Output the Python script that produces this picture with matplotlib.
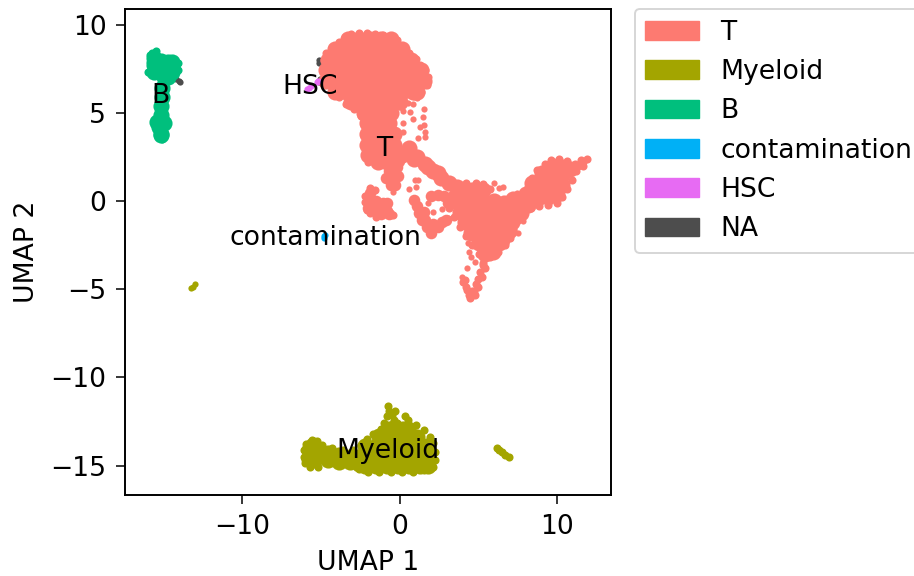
import numpy as np
from matplotlib import pyplot as plt
from matplotlib.patches import Patch

cell_types = ['T', 'Myeloid', 'B', 'contamination', 'HSC', 'NA']
type_colors = ['#FD7A71', '#A3A500', '#00BF7D', '#00B0F6', '#E76BF3', '#4D4D4D']

# points, (umap1, umap2)
t_big = [(-3.3,9.2),(-2.6,9.2),(-1.9,9.2),(-1.2,9.2),(-.6,9.2),
         (-4.1,8.6),(-3.4,8.6),(-2.7,8.6),(-2,8.6),(-1.3,8.6),(-.6,8.6),(.1,8.6),
         (-4.6,8),(-3.9,8),(-3.2,8),(-2.5,8),(-1.8,8),(-1.1,8),(-.4,8),(.3,8),(.7,8),
         (-4.7,7.4),(-4,7.4),(-3.3,7.4),(-2.6,7.4),(-1.9,7.4),(-1.2,7.4),(-.5,7.4),(.2,7.4),(.9,7.4),(1.35,7.4),
         (-4.7,6.8),(-4,6.8),(-3.3,6.8),(-2.6,6.8),(-1.9,6.8),(-1.2,6.8),(-.5,6.8),(.2,6.8),(.9,6.8),(1.5,6.8),
         (-4.1,6.2),(-3.4,6.2),(-2.7,6.2),(-2,6.2),(-1.3,6.2),(-.6,6.2),(.1,6.2),(.8,6.2),(1.1,6.2),
         (-3.1,5.6),(-2.4,5.6),(-1.7,5.6),(-1,5.6),(-.3,5.6),(0,5.6),
         (-2.3,5),(-1.6,5),(-.9,5),(-.6,5),
         (-2.1,4.4),(-1.4,4.4),(-.7,4.4),
         (-2.1,3.8),(-1.4,3.8),(-.7,3.8),(-.4,3.8),
         (-2.1,3.2),(-1.4,3.2),(-.7,3.2),(-.4,3.2),
         (-2,2.6),(-1.3,2.6),(-.6,2.6),(.1,2.6),(.5,2.8),
         (-1.4,2.2),(-.8,2.2),(-.2,2.3),
         (.6,3),(.9,2.4),(1.1,2.5),(1.6,2.1),(2.1,1.7),(2.6,1.3),(3.1,1),(3.6,.8),(2.4,1.6),(1.8,1.9),
         (3.9,.6),(4.6,.6),(5.3,.6),
         (3.5,0),(3.9,0),(4.6,0),(5.3,0),(6,0),(6.6,-.1),
         (3.8,-.6),(4.5,-.6),(5.2,-.6),(5.9,-.6),(6.6,-.6),(7.2,-.6),(7.6,-.5),
         (4.1,-1.2),(4.6,-1.2),(5.3,-1.2),(6,-1.2),(6.7,-1.2),(7.1,-1.2),
         (4.5,-1.8),(5.2,-1.8),(5.9,-1.8),(6.5,-1.8),(6.9,-1.7),
         (5,-2.4),(5.7,-2.4),(6.3,-2.4),(6.5,-2.2),
         (5.4,-3),(5.9,-2.9),
         (7.4,-.4),(8,-.1),(8.7,.1),(9.4,.2),(8.1,-.2),(7.7,-.7),(7.2,.1),
         (8,.4),(8.7,.4),(9.4,.4),(10,.4),
         (8.4,1),(9.1,1),(9.8,1),(10.3,.9),
         (9,1.6),(9.7,1.6),(10.3,1.5),
         (9.7,2),(10.3,1.9),(10.8,1.8)]
t_lobe = [(-1.9,.45),(-1.9,0),(-1.5,0),(-1.1,-.1),(-.8,-.1),(-2,-.4),(-1.6,-.45),(-1.2,-.5),(-.8,-.55),(-1.2,-.75),(-.7,-.75),
          (.9,.05),(1.1,-.3),(1.2,-.7),(1.4,-1.1),(1.7,-1.5),(2,-1.8),(2.4,-1.5),(2.1,-1.3),(2.7,-1.2),(2.95,-1.05),(1.6,-1.1),(1.5,-.6),
          (2,.3),(2.4,.35),(2.8,.3),(3.05,-.1),
          (-.9,1.3),(-.5,1.3),(-.1,1.4),(-.6,.9),(-.3,.9),(-.7,1.7),(-.2,1.9)]
t_mid = [(11.1,1.8),(11.3,2),(11.6,2.2),(11.9,2.4),(11.5,2.3),(11.6,2),
         (-4.85,7),(-4.85,7.5),(-4.85,8),(-4.7,8.4),(-4.3,8.7),(-3.9,9),(-3.5,9.3),(-3.1,9.45),(-2.6,9.5),(-2.1,9.5),
         (-1.6,9.45),(-1.1,9.4),(-.6,9.3),(-.2,9.1),(.2,8.75),(.6,8.4),(1,8.05),(1.3,7.7),(1.6,7.4),(1.8,7.05),
         (1.7,6.6),(1.35,6.2),(.9,5.95),
         (-4.8,6.6),(-4.4,6.2),(-3.9,5.9),(-3.4,5.5),(-2.9,5.2),(-2.5,4.8),(-2.3,4.3),(-2.3,3.7),(-2.3,3.1),(-2.25,2.6),(-2,2.2),
         (3.7,.95),(4.2,1),(4.8,1),(5.3,.95),(5.7,.7),(3.3,.4),(3.1,0),(3.1,-.4),(3.4,-.9),(3.8,-1.5),
         (4.2,-2),(4.6,-2.5),(5,-3),(5.3,-3.5),(5.7,-3.2),(6.2,-2.9),(6.7,-2.5),(7,-2.1),(7.2,-1.6),(7.5,-1.1),(7.9,-.7),
         (7.6,.2),(8.1,.8),(8.4,1.3),(8.7,1.75),(9.2,2.1),(9.6,2.3),(10.1,2.4),(10.6,2.25),(11.1,2.1),
         (11.2,1.7),(10.9,1.2),(10.6,.7),(10.3,.2),(10,-.1),(9.4,-.25),(8.8,-.3),(8.3,-.4),
         (5.4,-3.8),(5.2,-4.3),(4.95,-4.87),(4.76,-5.33),(4.44,-5.5),(4.25,-5.04),(4,-4.6),(4.6,-5.1),(4.95,-4.4),
         (5.3,-3.6),(5.1,-4),(4.8,-4.7),(4.7,-5.1),(4.4,-5.3),(4.2,-4.9),(4.1,-4.5),
         (-1.9,.74),(-1.59,.62),(-2.22,-.06),(-2.2,.3),(-2.1,-.5),(-.63,-.8),(-.44,-.8),(-1.9,-.7),(-1.5,-.9)]
t_small = [(1.08,5.84),(.63,5.04),(.83,4.65),(.19,5.1),(1.27,4.2),(1.46,4.76),(1.59,3.9),(1.14,3.57),
           (.19,4.4),(.19,3.9),(.5,5.55),(0,5.3),(1.5,4.3),(1.6,3.6),(.8,5.5),(1.5,5.2),
           (.95,1.19),(1.14,1.19),(.57,.68),(1.02,.79),(-.44,.51),(1.78,-.11),(2.1,-.62),(2.67,-.45),(3.05,-.96),
           (5.97,1.02),(6.54,.79),(6.29,.74),(6.67,.11),(7.43,.45),(7.49,-1.8),(7.8,-1.13),
           (4.32,-2.4),(4.38,-2.9),(4.5,-3.2),(4.76,-3.46),(3.94,-4.3),(4.25,-3.8)]
myeloid_big = [(-5.8,-14.1),(-5.4,-14.1),(-5.8,-14.6),(-5.4,-14.6),(-5.5,-13.8),(-5.5,-14.7),
               (-4.6,-14.3),(-4.6,-14.7),(-3.9,-14.4),(-3.9,-14.8),(-3.2,-14.5),(-3.2,-14.8),(-2.6,-14.5),(-2.6,-14.9),
               (-2.2,-15),(-1.5,-15),(-.8,-15),(-.1,-15),(.6,-15),(1.3,-15),(1.8,-15),
               (-2.3,-14.5),(-1.6,-14.5),(-.9,-14.5),(-.2,-14.5),(.5,-14.5),(1.2,-14.5),(1.8,-14.5),
               (-2.2,-13.9),(-1.5,-13.9),(-.8,-13.9),(-.1,-13.9),(.6,-13.9),(1.3,-13.9),(1.7,-13.9),
               (-1.3,-13.3),(-.8,-13.3),(-.1,-13.3),(.6,-13.3),(1.1,-13.4),
               (-.7,-12.9),(-.3,-12.8),(.2,-12.9),(.5,-12.9)]
myeloid_mid = [(-.75,-11.6),(-.7,-11.9),(-.5,-12.1),(-.8,-12.2),(-.4,-12.4),(-1,-12.6),(-.3,-11.9),
               (-2.6,-15.2),(-2,-15.35),(-1.3,-15.35),(-.6,-15.35),(.1,-15.35),(.8,-15.35),(1.5,-15.25),(2.1,-15.1),
               (2.2,-14.7),(2.2,-14.2),(2.1,-13.7),(1.9,-13.4),(1.5,-13),(1,-12.7),(.5,-12.4),(.3,-12.2),
               (-.2,-12.6),(-1.2,-12.9),(-1.7,-13.2),(-2.1,-13.5),(-2.5,-13.8),(-3,-14.1),(-3.6,-14.1),(-4.3,-14),
               (-6.1,-14.1),(-6.1,-14.5),(-6,-14.85),(-5.7,-15.05),(-5.2,-15.05),(-5.6,-13.55),(-5.25,-13.6),(-4.95,-13.85),(-5.95,-13.75),
               (6.15,-14),(6.3,-14.1),(6.5,-14.2),(6.7,-14.4),(6.9,-14.5)]
myeloid_small = [(-13.3,-4.95),(-13.15,-4.85),(-13,-4.7)]
b_big = [(-15.65,8.1),(-15.65,7.7),(-15.2,7.7),(-14.7,7.7),(-14.5,7.6),(-15.2,7.95),(-14.7,7.9),(-14.45,7.85),
         (-15.65,7.3),(-15.2,7.3),(-14.7,7.3),(-14.5,7.3),(-15,7),(-14.7,7),
         (-15.1,6.4),(-15.1,5.9),(-15.2,5.4),(-15.2,4.9),(-15.4,4.5),(-15,4.4),(-15.3,4.2),(-15.2,3.8),(-15.2,3.75)]
b_mid = [(-16,7.3),(-15.9,7.9),(-15.9,8.3),(-15.5,8.5),(-14.1,7.4),(-14.1,7.8),(-15.1,3.5),(-15.3,3.6),(-15.75,8.4)]
contamination_pts = [(-4.85,-2.1),(-4.8,-2),(-4.75,-1.95)]
hsc_pts = [(-5.9,6.35),(-5.8,6.4),(-5.65,6.5),(-5.3,6.75),(-5.2,6.8)]
na_pts = [(-13.97,6.74),(-14.2,6.9),(-14.05,6.8),(-15.1,6.85),(-15.05,7),(-5.14,7.8),(-5.14,8),(-5.14,6.75),(-5.05,6.9)]

label_x = [-1, -.76, -15.2, -4.76, -5.7]
label_y = [2.96, -14.15, 5.96, -2.12, 6.47]
label_names = ['T', 'Myeloid', 'B', 'contamination', 'HSC']

BIG = 135
LOBE = 70
MID = 34
SMALL = 20

plt.rcParams['font.size'] = 19.2
fig = plt.figure(figsize=(9.14, 5.76), dpi=100)
ax = fig.add_axes([125/914, 1-495/576, 486/914, 486/576])

def dots(pts, col, size):
    pts = np.array(pts)
    ax.scatter(pts[:, 0], pts[:, 1], s=size, color=col, linewidths=0)

dots(na_pts, type_colors[5], SMALL)
dots(t_big, type_colors[0], BIG)
dots(t_lobe, type_colors[0], LOBE)
dots(t_mid, type_colors[0], MID)
dots(t_small, type_colors[0], SMALL)
dots(myeloid_big, type_colors[1], BIG)
dots(myeloid_mid, type_colors[1], MID)
dots(myeloid_small, type_colors[1], SMALL)
dots(b_big, type_colors[2], BIG)
dots(b_mid, type_colors[2], MID)
dots(contamination_pts, type_colors[3], SMALL)
dots(hsc_pts, type_colors[4], SMALL)

for x, y, name in zip(label_x, label_y, label_names):
    ax.text(x, y, name, ha='center', va='center', color='black')

ax.set_xlim(-17.46, 13.4)
ax.set_ylim(-16.66, 10.88)
ax.set_xticks([-10, 0, 10])
ax.set_yticks([-15, -10, -5, 0, 5, 10])
ax.set_xlabel('UMAP 1', labelpad=7.7)
ax.set_ylabel('UMAP 2', labelpad=7.7)
for s in ax.spines.values():
    s.set_linewidth(1.4)
ax.tick_params(width=1.1, length=6.7, pad=6.7)

handles = [Patch(color=c, label=n) for c, n in zip(type_colors, cell_types)]
leg = ax.legend(handles=handles, loc='upper left', bbox_to_anchor=(1.049, 1.0), borderaxespad=0,
                framealpha=0.8, edgecolor='0.8')
leg.get_frame().set_linewidth(1.4)

plt.savefig('out.png', dpi=100)
